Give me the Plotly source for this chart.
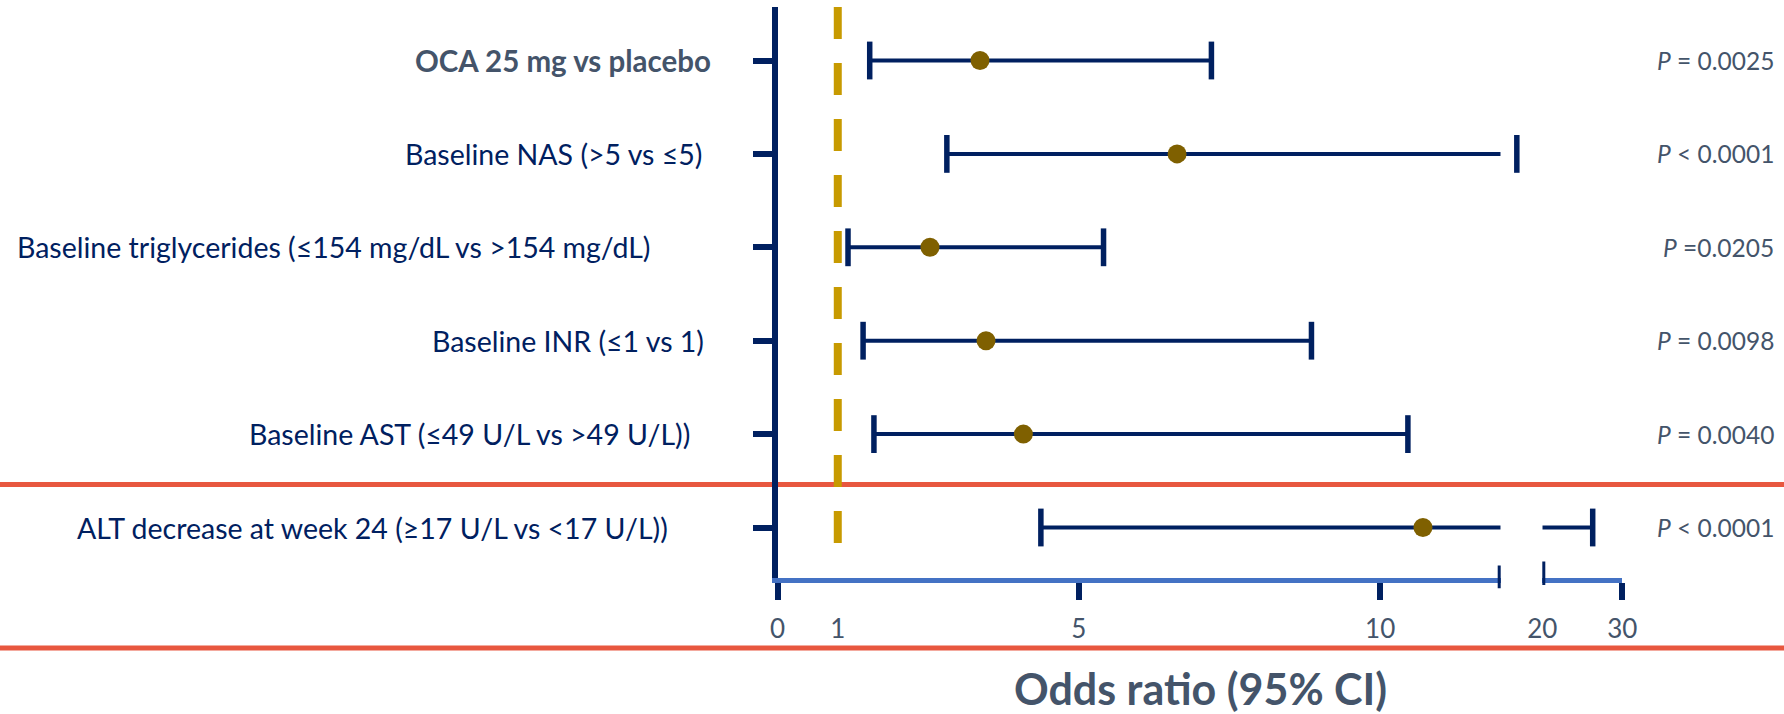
import plotly.graph_objects as go

# ---- data -------------------------------------------------------------
labels = [
    "OCA 25 mg vs placebo",
    "Baseline NAS (>5 vs ≤5)",
    "Baseline triglycerides (≤154 mg/dL vs >154 mg/dL)",
    "Baseline INR (≤1 vs 1)",
    "Baseline AST (≤49 U/L vs >49 U/L))",
    "ALT decrease at week 24 (≥17 U/L vs <17 U/L))",
]
odds_ratio = [3.36, 6.63, 2.53, 3.46, 4.08, 10.71]
ci_low = [1.53, 2.81, 1.17, 1.42, 1.60, 4.37]
ci_high = [7.20, 15.1, 5.41, 8.86, 10.46, 26.3]
p_values = ["= 0.0025", "< 0.0001", "=0.0205", "= 0.0098", "= 0.0040", "< 0.0001"]

low_ticks = [0, 1, 5, 10]
high_ticks = [20, 30]

# broken odds-ratio scale: linear part, hidden gap, compressed upper part
SEG_LOW = (0, 12)
SEG_GAP = (12, 20)
SEG_HIGH = (20, 30)

# ---- styling ----------------------------------------------------------
W, H = 1784, 714
NAVY = "#002060"
SLATE = "#44546A"
AXIS_BLUE = "#4472C4"
POINT = "#7F6000"
GOLD = "#C79A00"
RED = "#E8573F"
FONT = "Lato"


def px_x(p):
    return p / W


def px_y(p):
    return 1 - p / H


x_low_dom = [px_x(777.5), px_x(1500.7)]
x_gap_dom = [px_x(1500.7), px_x(1542.3)]
x_high_dom = [px_x(1542.3), px_x(1622.3)]
y_dom = [px_y(577.5), px_y(7)]

rows = list(range(len(labels)))
ROW_PX = 93.4
y_top = -53.5 / ROW_PX
y_bottom = y_top + 570.5 / ROW_PX

fig = go.Figure()

# CI lines on the linear part (cut at the break)
lx, ly = [], []
for r, lo, hi in zip(rows, ci_low, ci_high):
    lx += [lo, min(hi, SEG_LOW[1]), None]
    ly += [r, r, None]
fig.add_trace(go.Scatter(x=lx, y=ly, mode="lines", xaxis="x", yaxis="y",
                         line=dict(color=NAVY, width=4), hoverinfo="skip"))

# CI lines continuing on the upper part
hx, hy = [], []
for r, hi in zip(rows, ci_high):
    if hi > SEG_HIGH[0]:
        hx += [SEG_HIGH[0], hi, None]
        hy += [r, r, None]
fig.add_trace(go.Scatter(x=hx, y=hy, mode="lines", xaxis="x5", yaxis="y",
                         line=dict(color=NAVY, width=4), hoverinfo="skip"))

cap_style = dict(symbol="line-ns", size=27, color=NAVY,
                 line=dict(color=NAVY, width=5.5))

# lower caps
fig.add_trace(go.Scatter(x=ci_low, y=rows, mode="markers", xaxis="x", yaxis="y",
                         marker=cap_style, cliponaxis=False, hoverinfo="skip"))

# upper caps, each on the axis part it falls into
for axis, (a, b) in (("x", SEG_LOW), ("x2", SEG_GAP), ("x3", SEG_HIGH)):
    xs = [hi for hi in ci_high if a < hi <= b]
    ys = [r for r, hi in zip(rows, ci_high) if a < hi <= b]
    fig.add_trace(go.Scatter(x=xs, y=ys, mode="markers", xaxis=axis, yaxis="y",
                             marker=cap_style, cliponaxis=False, hoverinfo="skip"))

# point estimates
fig.add_trace(go.Scatter(x=odds_ratio, y=rows, mode="markers", xaxis="x4", yaxis="y",
                         marker=dict(symbol="circle", size=19, color=POINT),
                         cliponaxis=False, hoverinfo="skip"))

common_x = dict(showgrid=False, zeroline=False, anchor="y", fixedrange=True,
                automargin=False)
tick_font = dict(family=FONT, size=26, color=SLATE)

fig.update_layout(
    width=W, height=H, autosize=False,
    margin=dict(l=0, r=0, t=0, b=0, pad=0, autoexpand=False),
    paper_bgcolor="white", plot_bgcolor="rgba(0,0,0,0)",
    showlegend=False,
    xaxis=dict(domain=x_low_dom, range=list(SEG_LOW), showline=True,
               linecolor=AXIS_BLUE, linewidth=5, ticks="outside",
               tickvals=[0, 5, 10], ticklen=17, tickwidth=6, tickcolor=NAVY,
               showticklabels=False, **common_x),
    xaxis2=dict(domain=x_gap_dom, range=list(SEG_GAP), showline=False,
                showticklabels=False, ticks="", **common_x),
    xaxis3=dict(domain=x_high_dom, range=list(SEG_HIGH), showline=True,
                linecolor=AXIS_BLUE, linewidth=5, ticks="outside",
                tickvals=[SEG_HIGH[1]], ticklen=17, tickwidth=6, tickcolor=NAVY,
                showticklabels=False, **common_x),
    xaxis4=dict(domain=x_low_dom, range=list(SEG_LOW), overlaying="x",
                showline=False, ticks="outside", ticklen=28,
                tickcolor="rgba(0,0,0,0)", tickvals=low_ticks,
                ticktext=[str(t) for t in low_ticks], tickfont=tick_font,
                **common_x),
    xaxis5=dict(domain=x_high_dom, range=list(SEG_HIGH), overlaying="x3",
                showline=False, ticks="outside", ticklen=28,
                tickcolor="rgba(0,0,0,0)", tickvals=high_ticks,
                ticktext=[str(t) for t in high_ticks], tickfont=tick_font,
                **common_x),
    yaxis=dict(domain=y_dom, range=[y_bottom, y_top], showline=True,
               linecolor=NAVY, linewidth=6, ticks="outside", tickvals=rows,
               ticklen=19, tickwidth=6, tickcolor=NAVY, showticklabels=False,
               showgrid=False, zeroline=False, anchor="x", fixedrange=True,
               automargin=False),
)

shapes = [
    # section separators
    dict(type="line", xref="paper", yref="paper", x0=0, x1=1,
         y0=px_y(484.5), y1=px_y(484.5), line=dict(color=RED, width=5), layer="below"),
    dict(type="line", xref="paper", yref="paper", x0=0, x1=1,
         y0=px_y(648), y1=px_y(648), line=dict(color=RED, width=5), layer="below"),
    # reference line at OR = 1
    dict(type="line", xref="x", yref="y domain", x0=1, x1=1, y0=1, y1=0.06,
         line=dict(color=GOLD, width=8, dash="32px,24px"), layer="above"),
    # end caps of the broken axis
    dict(type="line", xref="x", yref="y domain", x0=SEG_LOW[1], x1=SEG_LOW[1],
         y0=-0.019, y1=0.021, line=dict(color=NAVY, width=6)),
    dict(type="line", xref="x3", yref="y domain", x0=SEG_HIGH[0], x1=SEG_HIGH[0],
         y0=-0.013, y1=0.028, line=dict(color=NAVY, width=6)),
]
fig.update_layout(shapes=shapes)

# row labels
label_right = [712.6, 704, 652, 706.3, 691.7, 670.4]
annotations = []
for r, (lab, xr) in enumerate(zip(labels, label_right)):
    txt = lab.replace("<", "&lt;")
    if r == 0:
        font = dict(family=FONT, size=29.5, color=SLATE, weight="bold")
    else:
        font = dict(family=FONT, size=28.5, color=NAVY)
    annotations.append(dict(text=txt, xref="paper", yref="y", x=px_x(xr), y=r,
                            xanchor="right", yanchor="middle", showarrow=False,
                            font=font))

# p-values
for r, p in enumerate(p_values):
    annotations.append(dict(text="<i>P</i> " + p.replace("<", "&lt;"),
                            xref="paper", yref="y", x=px_x(1776), y=r,
                            xanchor="right", yanchor="middle", showarrow=False,
                            font=dict(family=FONT, size=24.5, color=SLATE)))

# axis title
annotations.append(dict(text="<b>Odds ratio (95% CI)</b>", xref="paper", yref="paper",
                        x=px_x(1200), y=px_y(688.5), xanchor="center", yanchor="middle",
                        showarrow=False, font=dict(family=FONT, size=43, color=SLATE)))
fig.update_layout(annotations=annotations)

fig.write_html("out.html")
